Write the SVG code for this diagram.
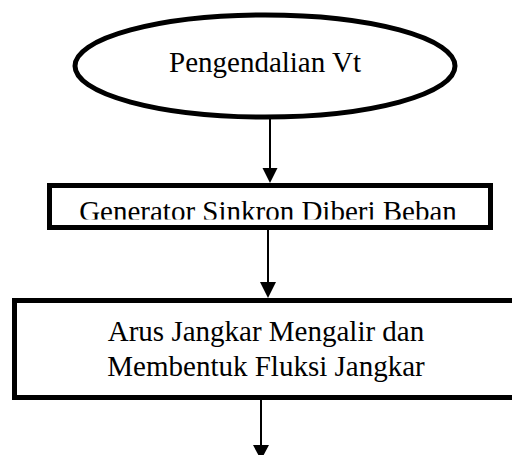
<svg xmlns="http://www.w3.org/2000/svg" width="512" height="455" viewBox="0 0 512 455">
<style>
.shape{fill:#fff;stroke:#000;stroke-width:5}
.line{stroke:#000;stroke-width:2;fill:none}
.head{fill:#000}
text{font-family:"Liberation Serif","Times New Roman",serif;font-size:29px;fill:#000;text-anchor:middle}
</style>
<defs>
<clipPath id="clip1"><rect x="50" y="186" width="440" height="33.5"/></clipPath>
</defs>
<rect width="512" height="455" fill="#fff"/>
<g id="connectors">
<line class="line" x1="270" y1="118" x2="270" y2="170"/>
<polygon class="head" points="262.5,168 277.5,168 270,183"/>
<line class="line" x1="268" y1="230" x2="268" y2="284"/>
<polygon class="head" points="260,282 276,282 268,298"/>
<line class="line" x1="261" y1="400" x2="261" y2="447"/>
<polygon class="head" points="253,445 269,445 261,460"/>
</g>
<g id="start">
<ellipse class="shape" cx="265" cy="66" rx="190" ry="51" stroke-width="4.5"/>
<text x="265" y="72">Pengendalian Vt</text>
</g>
<g id="load">
<rect class="shape" x="49.5" y="185.5" width="441" height="42"/>
<text x="268" y="221" clip-path="url(#clip1)">Generator Sinkron Diberi Beban</text>
</g>
<g id="flux">
<rect class="shape" x="14.5" y="300.5" width="510" height="97"/>
<text x="266" y="341">Arus Jangkar Mengalir dan</text>
<text x="266" y="376">Membentuk Fluksi Jangkar</text>
</g>
</svg>
